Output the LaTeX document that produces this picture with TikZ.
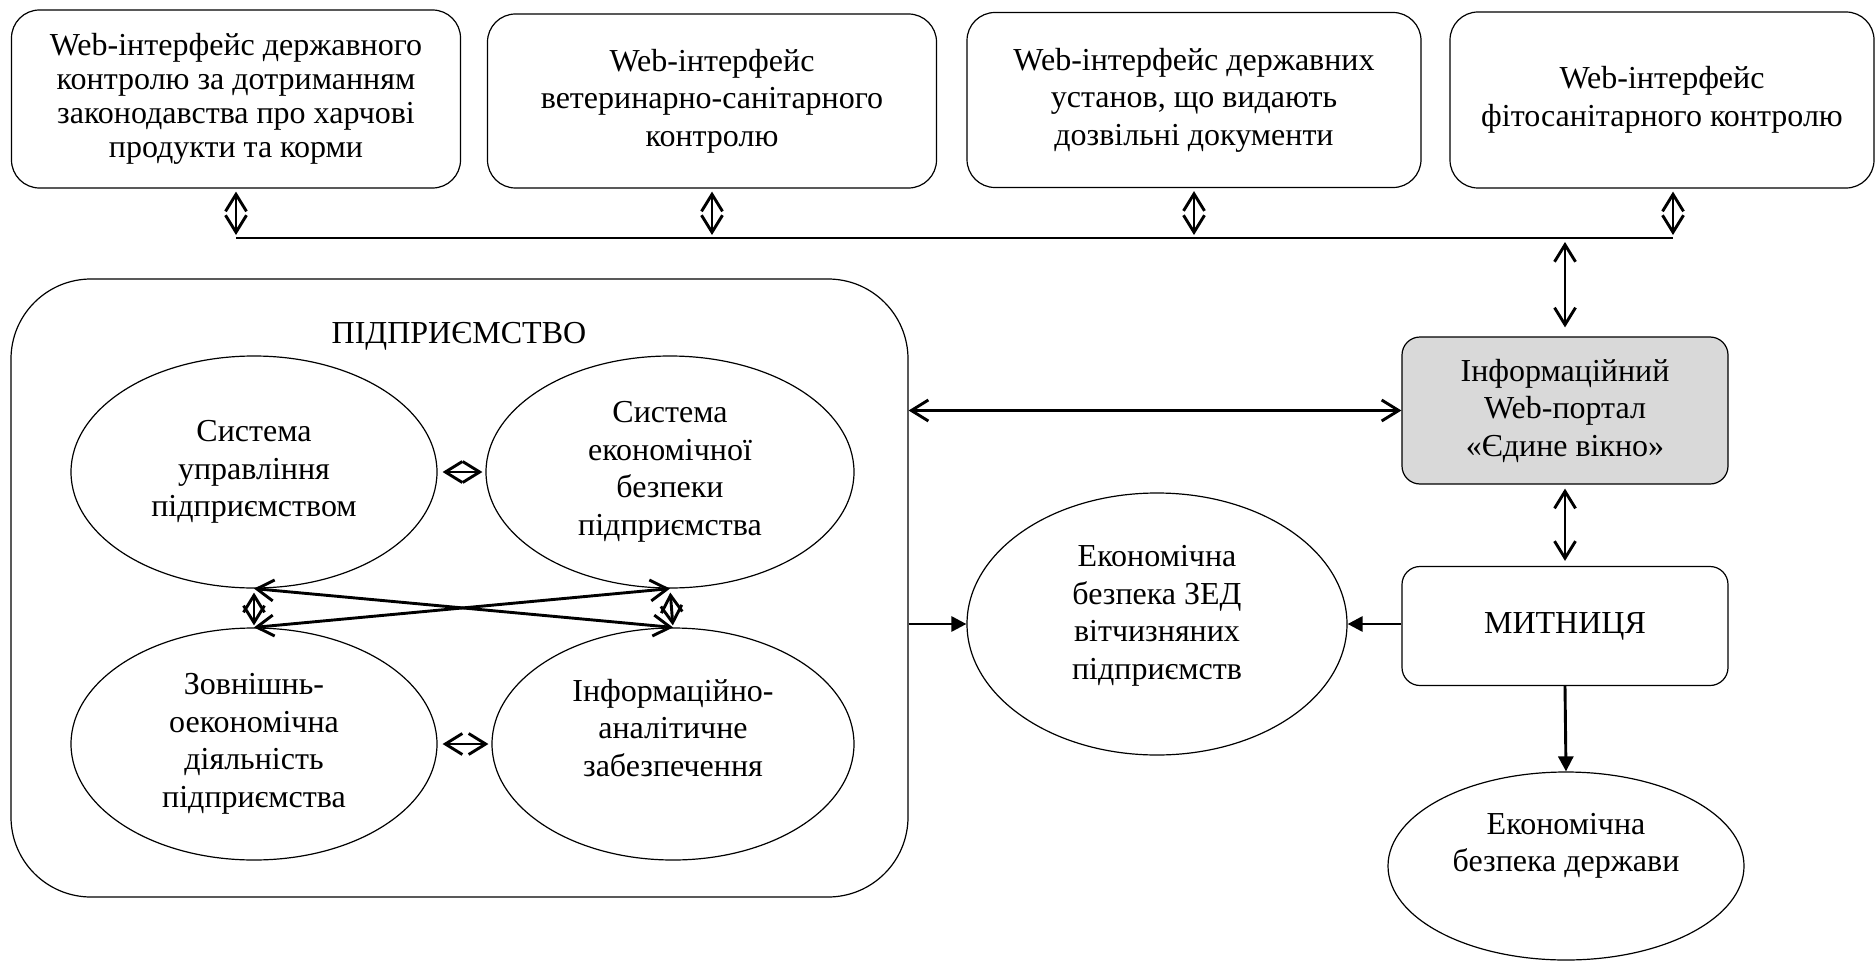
\documentclass[tikz,border=0pt]{standalone}
\usepackage{fontspec}
\setmainfont{Liberation Serif}
\usetikzlibrary{arrows.meta,shapes.geometric}
\definecolor{portalgray}{HTML}{D9D9D9}
\begin{document}
\begin{tikzpicture}[x=1pt,y=-1pt,
  every node/.style={font=\fontsize{32}{37.5}\selectfont},
  box/.style={draw, line width=1.2pt, rounded corners=28pt, align=center, inner sep=0pt},
  sbox/.style={draw, line width=1.2pt, rounded corners=18pt, align=center, inner sep=0pt},
  ell/.style={draw, ellipse, line width=1.2pt, align=center, inner sep=0pt},
  txt/.style={align=center, inner sep=0pt},
  dbl/.style={line width=2.9pt, {Straight Barb[length=17pt,width=21pt]}-{Straight Barb[length=17pt,width=21pt]}},
  one/.style={line width=2.9pt, -{Triangle[length=15pt,width=15pt]}},
  bus/.style={line width=1.9pt},
]
\fill[white] (0,0) rectangle (1876,963);
\useasboundingbox (0,0) rectangle (1876,963);

% top boxes
\node[box, minimum width=449pt, minimum height=178pt, font=\fontsize{32}{34}\selectfont] (box1) at (236,99)
  {Web-інтерфейс державного\\контролю за дотриманням\\законодавства про харчові\\продукти та корми};
\node[box, minimum width=449pt, minimum height=174pt] (box2) at (712,101)
  {Web-інтерфейс\\ветеринарно-санітарного\\контролю};
\node[box, minimum width=454pt, minimum height=175pt] (box3) at (1194,100)
  {Web-інтерфейс державних\\установ, що видають\\дозвільні документи};
\node[box, minimum width=424pt, minimum height=176pt] (box4) at (1662,100)
  {Web-інтерфейс\\фітосанітарного контролю};

% bus
\coordinate (busL) at (236,238);
\coordinate (busR) at (1673,238);
\draw[bus] (busL) -- (busR);

\draw[dbl, shorten <=3pt, shorten >=3pt] (box1.south) -- (box1.south |- busL);
\draw[dbl, shorten <=3pt, shorten >=3pt] (box2.south) -- (box2.south |- busL);
\draw[dbl, shorten <=3pt, shorten >=3pt] (box3.south) -- (box3.south |- busL);
\draw[dbl, shorten <=3pt, shorten >=3pt] (box4.south -| busR) -- (busR);

% right column
\node[sbox, fill=portalgray, minimum width=326pt, minimum height=147pt] (portal) at (1565,410.5)
  {Інформаційний\\Web-портал\\«Єдине вікно»};
\node[sbox, minimum width=326pt, minimum height=119pt] (customs) at (1565,626) {МИТНИЦЯ};
\node[ell, minimum width=356pt, minimum height=188pt] (e6) at (1566,866) {};
\node[txt] (e6t) at (1566,846) {Економічна\\безпека держави};

\draw[dbl, shorten <=4pt, shorten >=9pt] (portal.north |- busL) -- (portal.north);
\draw[dbl, shorten <=4pt, shorten >=5pt] (portal.south) -- (customs.north);
\draw[one] (customs.south) -- (e6.north);

% enterprise
\node[draw, line width=1.2pt, rounded corners=80pt, minimum width=897pt, minimum height=618pt] (big) at (459.5,588) {};
\node[txt] (ent) at (459,336) {ПІДПРИЄМСТВО};

\node[ell, minimum width=366pt, minimum height=232pt] (e1) at (254,472)
  {Система\\управління\\підприємством};
\node[ell, minimum width=368pt, minimum height=232pt] (e2) at (670,472)
  {Система\\економічної\\безпеки\\підприємства};
\node[ell, minimum width=366pt, minimum height=232pt] (e3) at (254,744)
  {Зовнішнь-\\оекономічна\\діяльність\\підприємства};
\node[ell, minimum width=362pt, minimum height=232pt] (e4) at (673,744) {};
\node[txt] (e4t) at (673,728) {Інформаційно-\\аналітичне\\забезпечення};

\draw[dbl, shorten <=5pt, shorten >=3pt] (e1.east) -- (e2.west);
\draw[dbl, shorten <=5pt, shorten >=3pt] (e3.east) -- (e4.west);
\draw[dbl] (e1.south) -- (e4.north);
\draw[dbl] (e3.north) -- (e2.south);
\draw[dbl, shorten <=4pt, shorten >=2pt] (e1.south) -- (e3.north);
\draw[dbl, shorten <=4pt, shorten >=2pt] (e2.south) -- (e4.north);

% middle ellipse
\node[ell, minimum width=380pt, minimum height=262pt] (e5) at (1157,624) {};
\node[txt] (e5t) at (1157,616) {Економічна\\безпека ЗЕД\\вітчизняних\\підприємств};

\draw[dbl] (big.east |- portal.west) -- (portal.west);
\draw[one] (big.east |- e5.west) -- (e5.west);
\draw[one] (e5.east -| customs.west) -- (e5.east);
\end{tikzpicture}
\end{document}
